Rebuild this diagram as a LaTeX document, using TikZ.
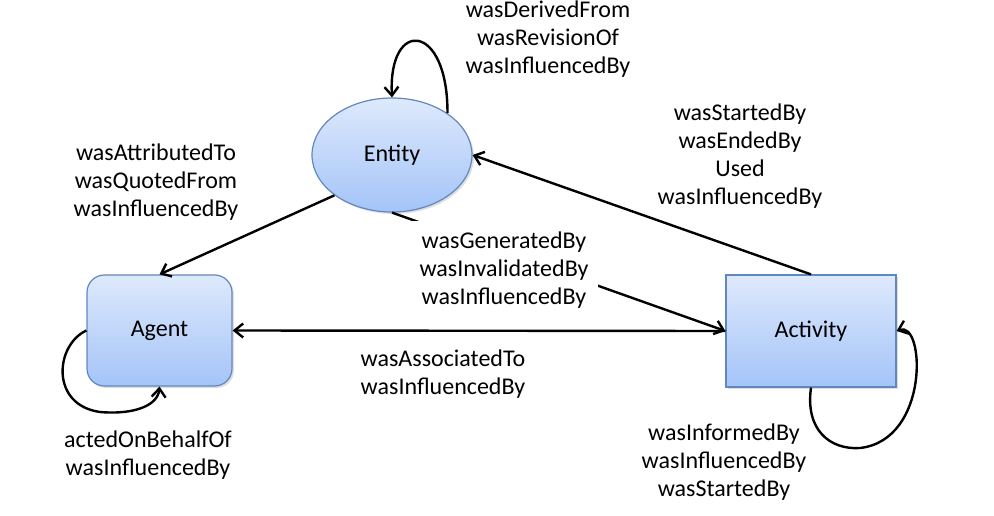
\documentclass[tikz,border=0pt]{standalone}
\usepackage{fontspec}
\setmainfont{Carlito}
\usetikzlibrary{arrows.meta,shapes.geometric,shadows}
\definecolor{boxtop}{RGB}{222,233,252}
\definecolor{boxbot}{RGB}{164,196,248}
\definecolor{boxline}{RGB}{98,135,190}

\begin{document}
\begin{tikzpicture}[x=0.75pt,y=-0.75pt]
  	\tikzstyle{main}=[draw=boxline, line width=0.9pt, top color=boxtop, bottom color=boxbot, drop shadow={opacity=0.25, shadow xshift=1.5pt, shadow yshift=-1.5pt}, font=\fontsize{18}{21}\selectfont]
  	\tikzstyle{connect}=[-{Straight Barb[length=6.5pt,width=10.5pt]}, line width=1.8pt]
  	\tikzstyle{lbl}=[align=center, inner sep=0pt, font=\fontsize{18}{21}\selectfont]
  	\useasboundingbox (0,0) rectangle (994,516);
  	% the three kinds
  	\node[main, ellipse, minimum width=120pt, minimum height=85.5pt] (entity) at (392,155) {Entity};
  	\node[main, rectangle, rounded corners=13pt, minimum width=108.75pt, minimum height=83.25pt] (agent) at (159.5,330.5) {Agent};
  	\node[main, rectangle, minimum width=127.5pt, minimum height=84pt] (activity) at (811,331) {Activity};
  	
  	\path (entity.215) edge [connect] (agent.north)
  	(activity.north) edge [connect] (entity.east)
  	(entity.south) edge [connect] (activity.west)
  	(activity.west) edge [connect] (agent.east);
  	% self loops
  	\draw[connect] (entity.37) .. controls (448,22) and (388,18) .. (entity.north);
  	\draw[connect] (agent.west) .. controls (55,345) and (50,405) .. (100,412) .. controls (135,415) and (158,405) .. (agent.south);
  	\draw[connect] (activity.south) .. controls (805,430) and (830,450) .. (860,448) .. controls (930,440) and (925,320) .. (activity.east);
  	
  	\node[lbl] (derived) at (548,39) {wasDerivedFrom\\wasRevisionOf\\wasInfluencedBy};
  	\node[lbl] (attributed) at (156,182) {wasAttributedTo\\wasQuotedFrom\\wasInfluencedBy};
  	\node[lbl] (started) at (740,156) {wasStartedBy\\wasEndedBy\\Used\\wasInfluencedBy};
  	\node[lbl, fill=white, inner xsep=7pt, inner ysep=8pt] (generated) at (504,270) {wasGeneratedBy\\wasInvalidatedBy\\wasInfluencedBy};
  	\node[lbl] (associated) at (443,374) {wasAssociatedTo\\wasInfluencedBy};
  	\node[lbl] (onbehalf) at (148,455) {actedOnBehalfOf\\wasInfluencedBy};
  	\node[lbl] (informed) at (724,462) {wasInformedBy\\wasInfluencedBy\\wasStartedBy};
\end{tikzpicture}
\end{document}
